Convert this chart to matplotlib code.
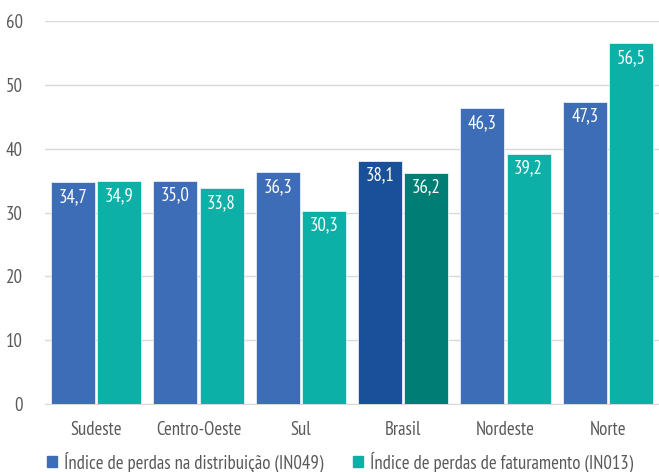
import numpy as np
import matplotlib
matplotlib.use("Agg")
import matplotlib.pyplot as plt
from matplotlib.patches import Patch

regioes = ["Sudeste", "Centro-Oeste", "Sul", "Brasil", "Nordeste", "Norte"]
in049 = [34.7, 35.0, 36.3, 38.1, 46.3, 47.3]
in013 = [34.9, 33.8, 30.3, 36.2, 39.2, 56.5]
rotulos = ["Índice de perdas na distribuição (IN049)",
           "Índice de perdas de faturamento (IN013)"]

plt.rcParams['font.family'] = ['PT Sans Narrow', 'DejaVu Sans']

azul, verde = "#3c6db6", "#0db0a6"
azul_br, verde_br = "#1a4f99", "#007d74"
cinza = "#595959"
tam = 13.5

fig = plt.figure(figsize=(6.59, 4.72), dpi=100)
ax = fig.add_axes([45/659, 68/472, 614/659, 383/472])

x = np.arange(len(regioes))
w = 0.43
# Brasil em tons mais escuros
cores1 = [azul_br if r == "Brasil" else azul for r in regioes]
cores2 = [verde_br if r == "Brasil" else verde for r in regioes]
b1 = ax.bar(x - w/2 - 0.01, in049, w, color=cores1, edgecolor="#e8eef8", linewidth=0.6, zorder=3)
b2 = ax.bar(x + w/2 + 0.01, in013, w, color=cores2, edgecolor="#e0f4f2", linewidth=0.6, zorder=3)

for barras, vals in ((b1, in049), (b2, in013)):
    for b, v in zip(barras, vals):
        ax.annotate(f"{v:.1f}".replace(".", ","),
                    (b.get_x() + b.get_width()/2, v),
                    xytext=(0, -10.5), textcoords="offset points",
                    ha="center", va="center", color="white", fontsize=tam, zorder=4)

ax.set_xlim(-0.5, len(regioes) - 0.5)
ax.set_ylim(0, 60)
ax.set_yticks(range(0, 61, 10))
ax.set_xticks(x)
ax.set_xticklabels(regioes)
ax.tick_params(axis="both", length=0, labelsize=tam, colors=cinza)
ax.tick_params(axis="y", pad=16)
ax.tick_params(axis="x", pad=12)
ax.yaxis.grid(True, color="#d9d9d9", linewidth=1, zorder=0)
for s in ("top", "right", "left"):
    ax.spines[s].set_visible(False)
ax.spines["bottom"].set_color("#d9d9d9")

handles = [Patch(color=azul), Patch(color=verde)]
fig.legend(handles, rotulos, loc="center left", bbox_to_anchor=(30/659, 10/472),
           ncol=2, frameon=False, fontsize=tam, labelcolor=cinza,
           handlelength=0.55, handleheight=0.55, handletextpad=0.35, columnspacing=1.6)

fig.savefig("out.png", dpi=100)
